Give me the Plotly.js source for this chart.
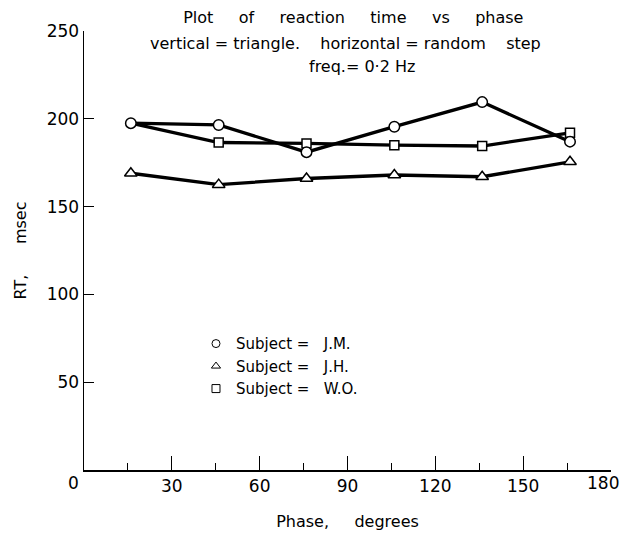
<!DOCTYPE html>
<html>
<head>
<meta charset="utf-8">
<script src="https://cdn.plot.ly/plotly-3.0.1.min.js"></script>
<style>html,body{margin:0;padding:0;background:#fff;}#chart{width:622px;height:534px;}</style>
</head>
<body>
<div id="chart"></div>
<script>
// Data
const phase = [16, 46, 76, 106, 136, 166];
const rtJM = [197.5, 196.5, 181, 195.5, 209.5, 187];
const rtJH = [169, 162.5, 166, 168, 167, 175.5];
const rtWO = [197.5, 186.5, 186, 185, 184.5, 192];
const names = ["Subject\u00a0=\u00a0\u00a0\u00a0J.M.", "Subject\u00a0=\u00a0\u00a0\u00a0J.H.", "Subject\u00a0=\u00a0\u00a0\u00a0W.O."];
const symbols = ["circle-open", "triangle-up-open", "square-open"];
const xTicks = [30, 60, 90, 120, 150, 180];
const xLabels = ["30", "60", "90", "120", "150", ""];
const yTicks = [50, 100, 150, 200, 250];

const FONT = "DejaVu Sans, Verdana, sans-serif";
const nb = n => "\u00a0".repeat(n);

function lineTrace(x, y) {
  return {x: x, y: y, mode: "lines", showlegend: false, cliponaxis: false,
          line: {color: "#000", width: 3.3}};
}
function markerTrace(x, y, sym, size) {
  return {x: x, y: y, mode: "markers", showlegend: false, cliponaxis: false,
          marker: {symbol: sym, size: size, color: "#ffffff", line: {color: "#000", width: 1.5}}};
}
function legendTrace(i) {
  return {
    x: [null], y: [null], mode: "markers", name: names[i], showlegend: true,
    marker: {symbol: symbols[i], size: 8, color: "#000", line: {color: "#000", width: 1}}
  };
}

const traces = [
  lineTrace(phase, rtWO),
  lineTrace(phase, rtJH),
  lineTrace(phase, rtJM),
  // the first W.O. square is hidden under the J.M. circle in the reference
  markerTrace(phase.slice(1), rtWO.slice(1), "square", 9),
  markerTrace(phase, rtJH, "triangle-up", 11),
  markerTrace(phase, rtJM, "circle", 10.5),
  legendTrace(0), legendTrace(1), legendTrace(2)
];

const layout = {
  width: 622, height: 534,
  margin: {l: 84, r: 11, t: 31, b: 64},
  paper_bgcolor: "#fff", plot_bgcolor: "#fff",
  font: {family: FONT, size: 16, color: "#000"},
  title: {text: ["Plot", "of", "reaction", "time", "vs", "phase"].join(nb(5)),
          x: 0.568, xanchor: "center", y: 0.968, yanchor: "middle", font: {size: 16}},
  xaxis: {
    range: [0, 180], tickvals: xTicks, ticktext: xLabels,
    ticks: "inside", ticklen: 14, tickwidth: 1, tickcolor: "#000",
    minor: {dtick: 15, tick0: 15, ticks: "inside", ticklen: 7, tickwidth: 1, tickcolor: "#000", showgrid: false},
    showline: true, linecolor: "#000", linewidth: 1.5, showgrid: false, zeroline: false,
    tickfont: {size: 17}, ticklabelstandoff: 0,
    title: {text: "Phase," + nb(5) + "degrees", font: {size: 16}, standoff: 21}
  },
  yaxis: {
    range: [0, 250], tickvals: yTicks, ticktext: yTicks.map(String),
    ticks: "inside", ticklen: 10, tickwidth: 1, tickcolor: "#000",
    showline: true, linecolor: "#000", linewidth: 1.5, showgrid: false, zeroline: false,
    tickfont: {size: 17},
    title: {text: "RT," + nb(6) + "msec", font: {size: 16}, standoff: 16}
  },
  legend: {x: 0.2125, y: 0.325, xanchor: "left", yanchor: "top", bgcolor: "rgba(0,0,0,0)",
           font: {size: 15}, tracegroupgap: 0},
  annotations: [
    {text: "vertical\u00a0=\u00a0triangle." + nb(4) + "horizontal\u00a0=\u00a0random" + nb(4) + "step", xref: "paper", yref: "paper",
     x: 0.497, y: 0.972, xanchor: "center", yanchor: "middle", showarrow: false, font: {size: 16}},
    {text: "freq.=\u00a00\u00b72\u00a0Hz", xref: "paper", yref: "paper",
     x: 0.528, y: 0.918, xanchor: "center", yanchor: "middle", showarrow: false, font: {size: 16}},
    {text: "0", xref: "paper", yref: "paper", x: -0.02, y: -0.03, xanchor: "center", yanchor: "middle",
     showarrow: false, font: {size: 17}},
    {text: "180", xref: "x", yref: "paper", x: 180, xshift: 10, y: -0.03, xanchor: "right", yanchor: "middle",
     showarrow: false, font: {size: 17}}
  ]
};

Plotly.newPlot("chart", traces, layout, {displayModeBar: false, staticPlot: true});
</script>
</body>
</html>
